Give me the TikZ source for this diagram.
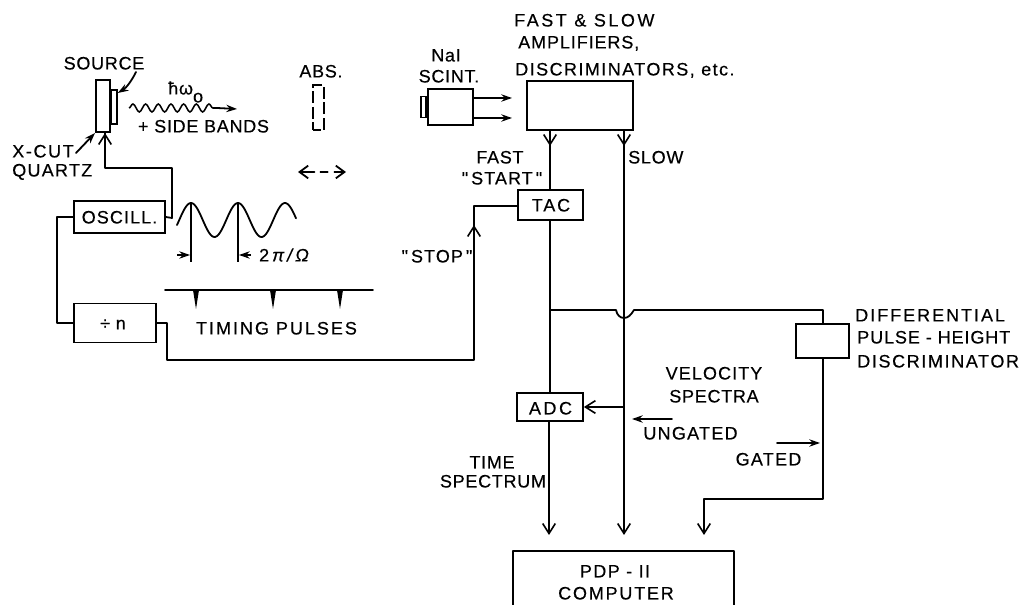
\documentclass[tikz,border=0pt]{standalone}
\usepackage{fontspec}
\setmainfont[LetterSpace=4,FakeBold=0.4]{Liberation Sans}
\newfontfamily\qf[FakeBold=0.4]{Liberation Sans}
\usetikzlibrary{arrows.meta,decorations.pathmorphing,calc}
\newcommand\LS[1]{\addfontfeature{LetterSpace=#1}}
\newcommand\QQ{{\qf"}}
\tikzset{
 x=0.75pt,y=-0.75pt,
 line/.style={line width=1.35pt,line cap=round,line join=round},
 bx/.style 2 args={draw,line width=1.35pt,minimum width=#1*0.75pt,minimum height=#2*0.75pt,inner sep=0pt},
 lbl/.style={inner sep=0pt,font=\fontsize{13.5pt}{15pt}\selectfont,text height=9.7pt,text depth=0pt},
 barb/.style={-{Straight Barb[length=7.5pt,width=9.5pt,line width=1.2pt]}},
 solidtip/.style={-{Stealth[length=8pt,width=5.5pt]}},
}
\begin{document}
\begin{tikzpicture}
\useasboundingbox (0,0) rectangle (1021,605);
% source assembly
\node[bx={14}{52}] (quartz) at (103,106) {};
\node[bx={6}{34},anchor=west] (src) at (110,107) {};
\node[lbl] (tsource) at (104,63) {SOURCE};
\node[lbl,anchor=west] (txcut) at (12,151) {\LS{9}X-CUT};
\node[lbl,anchor=west] (tquartz) at (12,170) {\LS{7}QUARTZ};
\coordinate (srca) at (136,72);
\coordinate (qa) at (76,153);
\draw[line,solidtip] (srca) .. controls (131,82) and (126,88) .. (src.east |- 0,93);
\draw[line,solidtip] (qa) -- (95,133);
% gamma ray
\coordinate (wa) at (129,108);
\coordinate (wb) at (217,108);
\coordinate (wc) at (237,109);
\draw[line width=1.15pt,decorate,decoration={snake,amplitude=3pt,segment length=9.5pt}] (wa) -- (wb);
\draw[line,solidtip] (wb) -- (wc);
\node[lbl,anchor=west] (thw) at (168,88) {ħω\raisebox{-6pt}{o}};
\node[lbl] (tsb) at (203.5,126) {+ SIDE BANDS};
% absorber
\node[lbl] (tabs) at (321,71) {ABS.};
\node[bx={11}{45},line width=1pt,dash pattern=on 9pt off 2.6pt,dash phase=3pt] (abs) at (318.5,107.5) {};
\coordinate (da) at (298,172);
\coordinate (db) at (346,172);
\draw[line,dash pattern=on 10.5pt off 4.5pt on 5.5pt off 5pt on 11pt off 5pt,{Straight Barb[length=6.5pt,width=9.5pt]}-{Straight Barb[length=6.5pt,width=9.5pt]}] (da) -- (db);
% oscillator
\node[bx={91}{32}] (osc) at (119.5,217) {};
\node[lbl] (tosc) at (119.5,217) {\LS{6}OSCILL.};
\node[bx={82}{39}] (div) at (115,323) {};
\node[lbl] (tdiv) at (113,323) {÷ n};
\coordinate (qin) at (105,133);
\coordinate (ob) at (172,168);
\coordinate (oc) at (172,218);
\draw[line] (osc.east) -- (oc) -- (ob) -- (105,168) -- (qin);
\draw[line,barb] (105,150) -- (qin);
\draw[line] (osc.west) -- ++(-16,0) |- (div.west);
% sine wave
\draw[line] plot[domain=177:296,samples=100,smooth] (\x,{220-17*cos((\x-191)/47*360)});
\coordinate (ma) at (191,203);
\coordinate (mb) at (238,203);
\coordinate (mc) at (191,262);
\coordinate (md) at (238,262);
\draw[line width=1pt] (ma) -- (mc);
\draw[line width=1pt] (mb) -- (md);
\draw[line width=0.9pt,solidtip] (177,255) -- (190,255);
\draw[line width=0.9pt,solidtip] (251,255) -- (239,255);
\node[lbl] (tper) at (284,255) {2\,\itshape π\,/\,Ω};
% timing pulses
\coordinate (ta) at (165,290);
\coordinate (tb) at (373,290);
\draw[line] (ta) -- (tb);
\foreach \nm/\px in {p1/196,p2/273,p3/340}{
  \coordinate (\nm) at (\px,309);
  \fill (\px-3,290) -- (\nm) -- (\px+3,290) -- cycle;
}
\node[lbl] (ttp) at (276.5,328) {\LS{11}TIMING PULSES};
% stop line
\node[bx={65}{30}] (tac) at (550.5,205) {};
\node[lbl] (ttac) at (551,205) {\LS{10}TAC};
\coordinate (sb) at (474,360);
\draw[line] (div.east) -- ++(10,0) |- (sb) -- (474,206) -- (tac.west |- 474,206);
\draw[line,barb] (474,240) -- (474,225);
\node[lbl] (tstop) at (437,256) {\QQ\,\LS{6}STOP\,\QQ};
% scintillator
\node[lbl] (tnai) at (446,55) {NaI};
\node[lbl] (tscint) at (449,76) {SCINT.};
\node[bx={45}{36}] (sc) at (450.5,107) {};
\node[bx={5}{21},anchor=east] (win) at (sc.west) {};
\coordinate (a1) at (512,98);
\coordinate (a2) at (512,118);
\draw[line,solidtip] (sc.east |- a1) -- (a1);
\draw[line,solidtip] (sc.east |- a2) -- (a2);
% amplifier
\node[lbl,anchor=west] (t1) at (514,20) {\LS{14}FAST \& SLOW};
\node[lbl,anchor=west] (t2) at (518,42) {\LS{5}AMPLIFIERS,};
\node[lbl,anchor=west] (t3) at (515,69) {\LS{8}DISCRIMINATORS, etc.};
\node[bx={106}{49}] (amp) at (580,105.5) {};
\node[lbl] (tfast) at (500,157) {FAST};
\node[lbl] (tstart) at (502,178) {\QQ\,\LS{6}START\,\QQ};
\node[lbl,anchor=west] (tslow) at (628,157) {SLOW};
\coordinate (ff) at (550,130);
\coordinate (sl) at (624,130);
\draw[line,barb] (ff) -- (550,146);
\draw[line,barb] (sl) -- (624,146);
\draw[line] (ff) -- (550,190);
% lower chain
\node[bx={66}{28}] (adc) at (550,407) {};
\node[lbl] (tadc) at (550.5,408) {\LS{14}ADC};
\draw[line] (tac.south -| ff) -- (adc.north -| ff);
\node[lbl] (ttime) at (492,462) {TIME};
\node[lbl] (tspec) at (493,481) {SPECTRUM};
\node[bx={219}{53},draw=none] (comp) at (623.5,578.5) {};
\draw[line] (comp.south west) -- (comp.north west) -- (comp.north east) -- (comp.south east);
\node[lbl] (tpdp) at (615,571) {\LS{8}PDP - II};
\node[lbl] (tcomp) at (616,593) {\LS{10}COMPUTER};
\coordinate (c1) at (549,535);
\coordinate (c2) at (624,535);
\coordinate (c3) at (704,535);
\draw[line,barb] (adc.south -| c1) -- (c1);
\draw[line,barb] (sl) -- (c2);
\coordinate (j) at (624,407);
\draw[line,barb] (j) -- (adc.east);
% gated branch
\node[bx={53}{34}] (dis) at (822.5,341) {};
\coordinate (ja) at (550,310);
\coordinate (jb) at (616,310);
\coordinate (jc) at (634,310);
\coordinate (jd) at (823,310);
\coordinate (je) at (823,499);
\coordinate (jf) at (704,499);
\draw[line] (ja) -- (jb) .. controls (617,315) and (620,318) .. (624,318) .. controls (628,318) and (631,315) .. (jc) -- (jd) -- (dis.north -| jd);
\draw[line] (dis.south -| je) -- (je) -- (jf);
\draw[line,barb] (jf) -- (c3);
\node[lbl,anchor=west] (d1) at (855,315) {\LS{11}DIFFERENTIAL};
\node[lbl,anchor=west] (d2) at (857,337) {\LS{5}PULSE - HEIGHT};
\node[lbl,anchor=west] (d3) at (857,361) {\LS{9}DISCRIMINATOR};
\node[lbl] (v1) at (714,373) {\LS{6}VELOCITY};
\node[lbl] (v2) at (714,396) {SPECTRA};
\coordinate (ua) at (672,419);
\coordinate (ub) at (632,419);
\draw[line,solidtip] (ua) -- (ub);
\node[lbl] (tun) at (690.5,433) {\LS{7}UNGATED};
\coordinate (ga) at (777,443);
\coordinate (gb) at (820,443);
\draw[line,solidtip] (ga) -- (gb);
\node[lbl] (tg) at (768.5,459) {\LS{7}GATED};
\end{tikzpicture}
\end{document}
